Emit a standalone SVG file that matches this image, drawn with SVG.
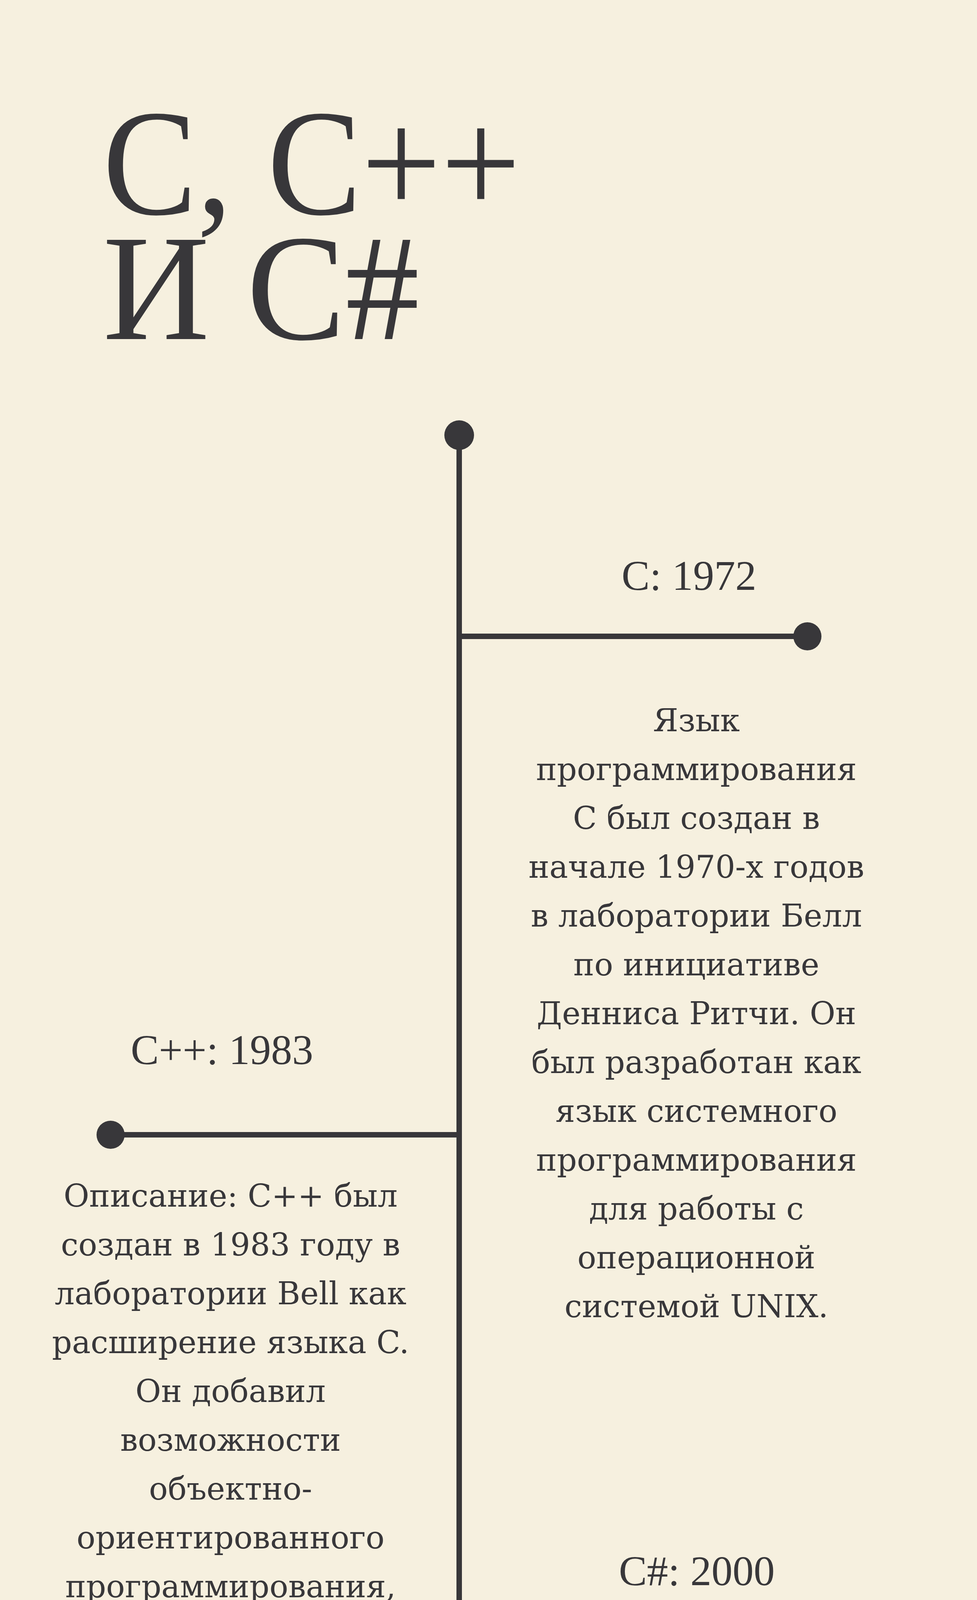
<svg xmlns="http://www.w3.org/2000/svg" width="2500" height="6250" viewBox="0 0 2500 6250">
<style>
.title{font-family:"Liberation Serif","DejaVu Serif",serif;font-size:388px;fill:#38373a}
.label{font-family:"Liberation Serif","DejaVu Serif",serif;font-size:108px;fill:#38373a;text-anchor:middle}
.body{font-family:"DejaVu Serif","Liberation Serif",serif;font-size:80px;fill:#38373a;text-anchor:middle}
.ln{stroke:#38373a;stroke-width:14;fill:none}
.dot{fill:#38373a}
</style>
<rect width="2500" height="6250" fill="#f6f0df"/>
<g id="title">
<text class="title" x="263" y="548" textLength="1069" lengthAdjust="spacingAndGlyphs">C, C++</text>
<text class="title" x="263" y="868" textLength="810" lengthAdjust="spacingAndGlyphs">И C#</text>
</g>
<g id="connectors">
<line class="ln" x1="1175" y1="1114" x2="1175" y2="5345"/>
<line class="ln" x1="1175" y1="1629" x2="2066" y2="1629"/>
<line class="ln" x1="283" y1="2905" x2="1175" y2="2905"/>
<line class="ln" x1="1175" y1="4155" x2="2066" y2="4155"/>
<circle class="dot" cx="1175" cy="1114" r="38"/>
<circle class="dot" cx="1175" cy="5345" r="38"/>
</g>
<g id="node-c">
<circle class="dot" cx="2066" cy="1629" r="36"/>
<text class="label" x="1763" y="1510">C: 1972</text>
<text class="body" x="1782" y="1872">Язык</text>
<text class="body" x="1782" y="1997">программирования</text>
<text class="body" x="1782" y="2122">С был создан в</text>
<text class="body" x="1782" y="2247">начале 1970-х годов</text>
<text class="body" x="1782" y="2372">в лаборатории Белл</text>
<text class="body" x="1782" y="2497">по инициативе</text>
<text class="body" x="1782" y="2622">Денниса Ритчи. Он</text>
<text class="body" x="1782" y="2747">был разработан как</text>
<text class="body" x="1782" y="2872">язык системного</text>
<text class="body" x="1782" y="2997">программирования</text>
<text class="body" x="1782" y="3122">для работы с</text>
<text class="body" x="1782" y="3247">операционной</text>
<text class="body" x="1782" y="3372">системой UNIX.</text>
</g>
<g id="node-cpp">
<circle class="dot" cx="283" cy="2905" r="36"/>
<text class="label" x="568" y="2724">C++: 1983</text>
<text class="body" x="590" y="3089">Описание: C++ был</text>
<text class="body" x="590" y="3214">создан в 1983 году в</text>
<text class="body" x="590" y="3339">лаборатории Bell как</text>
<text class="body" x="590" y="3464">расширение языка C.</text>
<text class="body" x="590" y="3589">Он добавил</text>
<text class="body" x="590" y="3714">возможности</text>
<text class="body" x="590" y="3839">объектно-</text>
<text class="body" x="590" y="3964">ориентированного</text>
<text class="body" x="590" y="4089">программирования,</text>
<text class="body" x="590" y="4214">такие как классы и</text>
<text class="body" x="590" y="4339">наследование,</text>
<text class="body" x="590" y="4464">позволяя</text>
<text class="body" x="590" y="4589">разработчикам</text>
<text class="body" x="590" y="4714">создавать более</text>
<text class="body" x="590" y="4839">сложные и</text>
<text class="body" x="590" y="4964">структурированные</text>
<text class="body" x="590" y="5089">программы.</text>
</g>
<g id="node-cs">
<circle class="dot" cx="2066" cy="4155" r="36"/>
<text class="label" x="1783" y="4058">C#: 2000</text>
<text class="body" x="1800" y="4420">Язык</text>
<text class="body" x="1800" y="4545">программирования C#</text>
<text class="body" x="1800" y="4670">был разработан</text>
<text class="body" x="1800" y="4795">Microsoft в 1998-2000</text>
<text class="body" x="1800" y="4920">годах и выпущен в</text>
<text class="body" x="1800" y="5045">2000 году. C# был</text>
<text class="body" x="1800" y="5170">создан как часть</text>
<text class="body" x="1800" y="5295">платформы .NET и</text>
<text class="body" x="1800" y="5420">предназначен для</text>
<text class="body" x="1800" y="5545">разработки</text>
<text class="body" x="1800" y="5670">приложений под</text>
<text class="body" x="1800" y="5795">Windows и веб-</text>
<text class="body" x="1800" y="5920">приложений.</text>
</g>
</svg>
